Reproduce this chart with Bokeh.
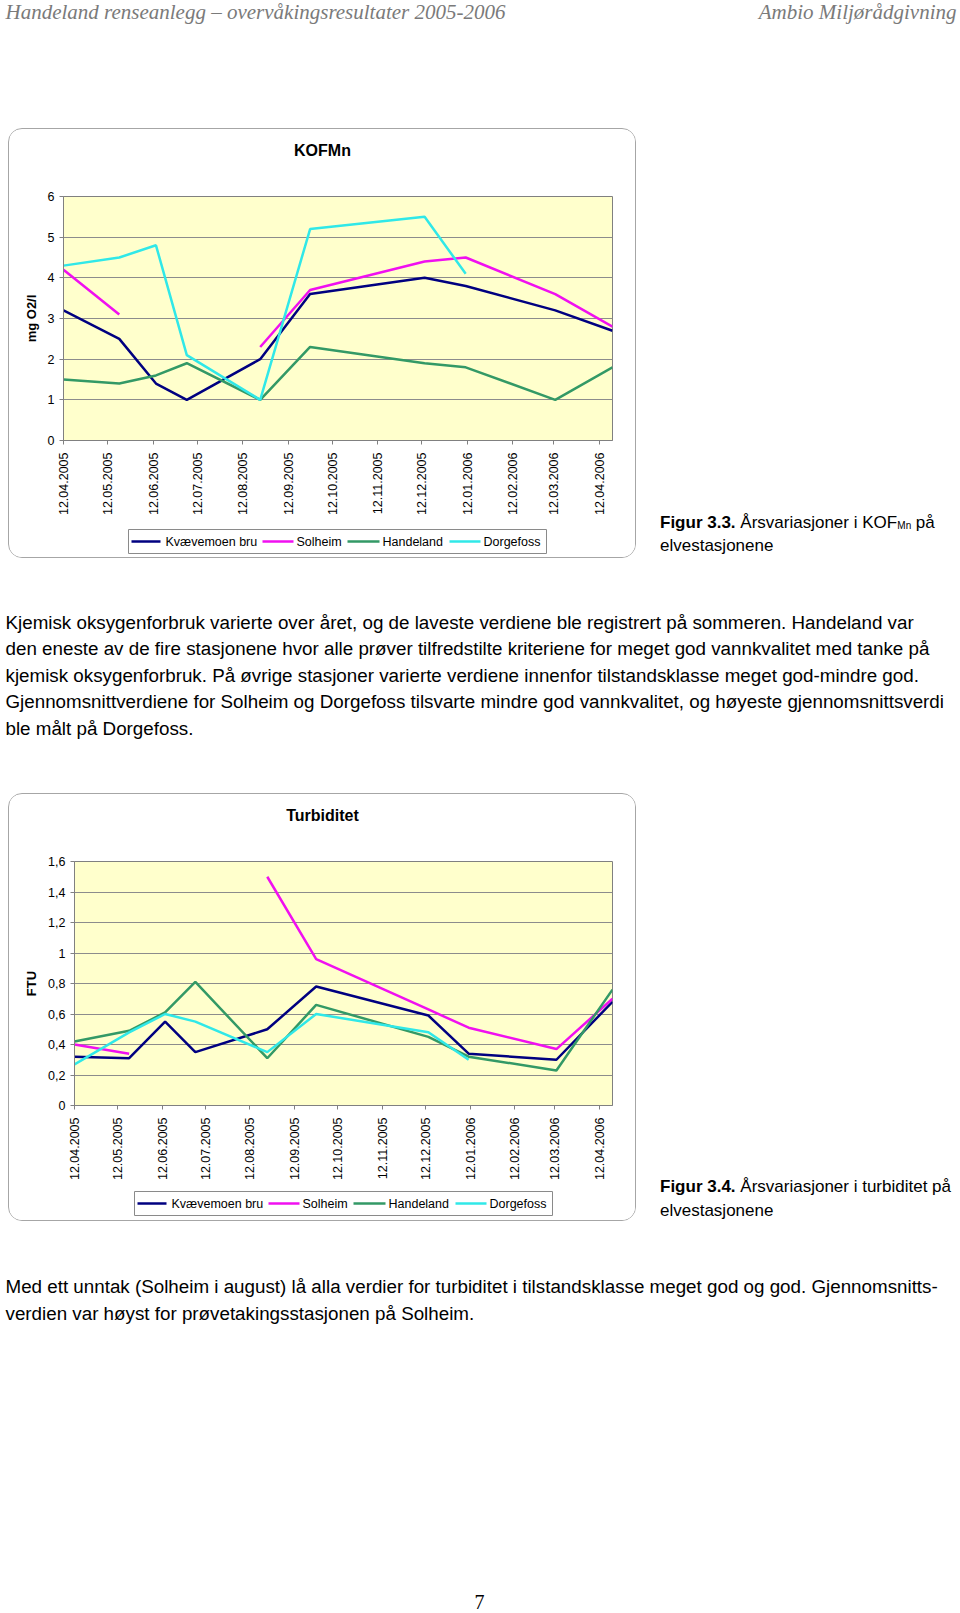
import math
import pandas as pd
from bokeh.plotting import figure
from bokeh.models import Range1d, FixedTicker, DatetimeTickFormatter, ColumnDataSource, Spacer
from bokeh.layouts import column, row
from bokeh.embed import file_html
from bokeh.resources import INLINE
from bokeh.core.properties import value

# ---------------- data ----------------
sample_dates = ["2005-04-12", "2005-05-20", "2005-06-14", "2005-07-05", "2005-08-24",
                "2005-09-27", "2005-12-14", "2006-01-11", "2006-03-13", "2006-04-21"]
stations = ["Kvævemoen bru", "Solheim", "Handeland", "Dorgefoss"]
nan = float("nan")

kof_kvaevemoen = [3.2, 2.5, 1.4, 1.0, 2.0, 3.6, 4.0, 3.8, 3.2, 2.7]
kof_solheim    = [4.2, 3.1, nan, nan, 2.3, 3.7, 4.4, 4.5, 3.6, 2.8]
kof_handeland  = [1.5, 1.4, 1.6, 1.9, 1.0, 2.3, 1.9, 1.8, 1.0, 1.8]
kof_dorgefoss  = [4.3, 4.5, 4.8, 2.1, 1.0, 5.2, 5.5, 4.1, nan, nan]

turb_kvaevemoen = [0.32, 0.31, 0.55, 0.35, 0.50, 0.78, 0.59, 0.34, 0.30, 0.68]
turb_solheim    = [0.40, 0.34, nan, nan, 1.50, 0.96, 0.63, 0.51, 0.37, 0.70]
turb_handeland  = [0.42, 0.49, 0.61, 0.81, 0.31, 0.66, 0.45, 0.32, 0.23, 0.76]
turb_dorgefoss  = [0.27, 0.48, 0.60, 0.55, 0.35, 0.60, 0.48, 0.30, nan, nan]

xtick_dates = ["2005-04-12", "2005-05-12", "2005-06-12", "2005-07-12", "2005-08-12",
               "2005-09-12", "2005-10-12", "2005-11-12", "2005-12-12", "2006-01-12",
               "2006-02-12", "2006-03-12", "2006-04-12"]
x_start, x_end = "2005-04-12", "2006-04-21"

kof_yticks = [0, 1, 2, 3, 4, 5, 6]
kof_ytick_labels = ["0", "1", "2", "3", "4", "5", "6"]
turb_yticks = [0, 0.2, 0.4, 0.6, 0.8, 1.0, 1.2, 1.4, 1.6]
turb_ytick_labels = ["0", "0,2", "0,4", "0,6", "0,8", "1", "1,2", "1,4", "1,6"]

colors = ["#000080", "#F010F0", "#339966", "#30E8E8"]

header_left = "Handeland renseanlegg – overvåkingsresultater 2005-2006"
header_right = "Ambio Miljørådgivning"
para1 = ["Kjemisk oksygenforbruk varierte over året, og de laveste verdiene ble registrert på sommeren. Handeland var",
         "den eneste av de fire stasjonene hvor alle prøver tilfredstilte kriteriene for meget god vannkvalitet med tanke på",
         "kjemisk oksygenforbruk. På øvrige stasjoner varierte verdiene innenfor tilstandsklasse meget god-mindre god.",
         "Gjennomsnittverdiene for Solheim og Dorgefoss tilsvarte mindre god vannkvalitet, og høyeste gjennomsnittsverdi",
         "ble målt på Dorgefoss."]
para2 = ["Med ett unntak (Solheim i august) lå alla verdier for turbiditet i tilstandsklasse meget god og god. Gjennomsnitts-",
         "verdien var høyst for prøvetakingsstasjonen på Solheim."]

SANS = "Liberation Sans"
SERIF = "Liberation Serif"
BODY = "18.8px"
CAP = "17px"

# legend key layout (offsets from the legend box's left edge)
LEG_W = 418
LEG_LINE = [(3, 32), (134, 165), (219, 251), (321, 352)]
LEG_TEXT = [37, 168, 254, 355]


def ms(d):
    return pd.Timestamp(d).value / 1e6


def text_fig(w, h, x0, y0, bl=0, br=0):
    # figure whose data coordinates equal page pixel coordinates
    f = figure(width=w, height=h, x_range=Range1d(x0 + bl, x0 + w - br), y_range=Range1d(y0 + h, y0),
               output_backend="svg", toolbar_location=None,
               min_border_left=bl, min_border_right=br, min_border_top=0, min_border_bottom=0,
               x_axis_location=None, y_axis_location=None, outline_line_color=None)
    f.grid.visible = False
    return f


def put(f, x, y, t, size, font=SANS, style="normal", align="left", color="black", baseline="middle"):
    f.text(x=[x], y=[y], text=[t], text_font=value(font), text_font_size=size,
           text_font_style=style, text_align=align, text_baseline=baseline, text_color=color)


def make_chart(series, yticks, ylabels, ymax, ylab, title, top, mb_left, leg_left, leg_top, box_h):
    mb_right = 23
    # title strip
    tf = text_fig(626, 50, 9, top, mb_left, mb_right)
    put(tf, 322, top + 21, title, "16px", style="bold", align="center")

    # plot
    fig_h = 17 + 244 + 80
    p = figure(width=626, height=fig_h, x_axis_type="datetime",
               x_range=Range1d(ms(x_start), ms(x_end)), y_range=Range1d(0, ymax),
               output_backend="svg", toolbar_location=None,
               min_border_left=mb_left, min_border_right=mb_right, min_border_top=17, min_border_bottom=80,
               background_fill_color="#FFFFCC", border_fill_color="white",
               outline_line_color="#808080", outline_line_width=1)
    p.xgrid.visible = False
    p.ygrid.grid_line_color = "#8c8c8c"
    p.ygrid.grid_line_width = 1

    p.xaxis.ticker = FixedTicker(ticks=[ms(d) for d in xtick_dates])
    fmt = "%d.%m.%Y"
    p.xaxis.formatter = DatetimeTickFormatter(microseconds=fmt, milliseconds=fmt, seconds=fmt, minsec=fmt,
                                              minutes=fmt, hourmin=fmt, hours=fmt, days=fmt, months=fmt, years=fmt)
    p.xaxis.major_label_orientation = math.pi / 2
    p.xaxis.major_label_standoff = 8

    p.yaxis.ticker = FixedTicker(ticks=yticks)
    p.yaxis.major_label_overrides = {t: l for t, l in zip(yticks, ylabels)}
    p.yaxis.major_label_standoff = 5
    p.yaxis.axis_label = ylab
    p.yaxis.axis_label_standoff = 6
    p.yaxis.axis_label_text_font = SANS
    p.yaxis.axis_label_text_font_size = "13px"
    p.yaxis.axis_label_text_font_style = "bold"
    p.yaxis.axis_label_text_color = "black"

    for ax in (p.xaxis, p.yaxis):
        ax.axis_line_color = "#808080"
        ax.major_tick_line_color = "#808080"
        ax.major_tick_out = 4
        ax.major_tick_in = 0
        ax.minor_tick_line_color = None
        ax.major_label_text_font = SANS
        ax.major_label_text_font_size = "12.5px"
        ax.major_label_text_color = "black"

    src = ColumnDataSource(dict(x=pd.to_datetime(sample_dates), **{f"s{i}": s for i, s in enumerate(series)}))
    for i, col in enumerate(colors):
        p.line("x", f"s{i}", source=src, line_color=col, line_width=2.5)

    # legend strip
    leg_y0 = top + 50 + fig_h
    lf = text_fig(626, box_h - 50 - fig_h, 9, leg_y0, mb_left, mb_right)
    lf.quad(left=[leg_left], right=[leg_left + LEG_W], top=[leg_top], bottom=[leg_top + 24],
            fill_color="white", line_color="#8a8a8a", line_width=1)
    cy = leg_top + 12
    lf.segment(x0=[leg_left + a for a, b in LEG_LINE], x1=[leg_left + b for a, b in LEG_LINE],
               y0=[cy] * 4, y1=[cy] * 4, line_color=colors, line_width=2.5)
    lf.text(x=[leg_left + t for t in LEG_TEXT], y=[cy] * 4, text=stations,
            text_font=value(SANS), text_font_size="12.5px", text_baseline="middle", text_color="black")

    box = column(tf, p, lf, styles={"border": "1px solid #a6a6a6", "border-radius": "14px", "overflow": "hidden"})
    return box


# ---------------- page (page pixel coordinates) ----------------
header = text_fig(960, 128, 0, 0)
put(header, 5, 11, header_left, "21px", font=SERIF, style="italic", color="#7a7a7a")
put(header, 956, 11, header_right, "21px", font=SERIF, style="italic", color="#7a7a7a", align="right")

chart1 = make_chart([kof_kvaevemoen, kof_solheim, kof_handeland, kof_dorgefoss],
                    kof_yticks, kof_ytick_labels, 6, "mg O2/l", "KOFMn",
                    129, 54, 128, 529, 428)
cap1 = text_fig(324, 430, 636, 128)
put(cap1, 659.5, 522, "Figur 3.3.", CAP, style="bold")
put(cap1, 739.8, 522, "Årsvariasjoner i KOF", CAP)
put(cap1, 896.8, 525, "Mn", "10px")
put(cap1, 915.2, 522, "på", CAP)
put(cap1, 659.5, 545, "elvestasjonene", CAP)

p1 = text_fig(960, 235, 0, 558)
for i, line in enumerate(para1):
    put(p1, 5, 621.5 + i * 26.5, line, BODY)

chart2 = make_chart([turb_kvaevemoen, turb_solheim, turb_handeland, turb_dorgefoss],
                    turb_yticks, turb_ytick_labels, 1.6, "FTU", "Turbiditet",
                    794, 65, 134, 1191, 426)
cap2 = text_fig(324, 428, 636, 793)
put(cap2, 659.5, 1186, "Figur 3.4.", CAP, style="bold")
put(cap2, 739.8, 1186, "Årsvariasjoner i turbiditet på", CAP)
put(cap2, 659.5, 1210, "elvestasjonene", CAP)

bottom = text_fig(960, 392, 0, 1221)
for i, line in enumerate(para2):
    put(bottom, 5, 1286 + i * 26.5, line, BODY)
put(bottom, 479, 1601, "7", "20px", font=SERIF, align="center")

page = column(header,
              row(Spacer(width=8, height=430), chart1, cap1),
              p1,
              row(Spacer(width=8, height=428), chart2, cap2),
              bottom)
open("out.html", "w").write(file_html(page, INLINE))
